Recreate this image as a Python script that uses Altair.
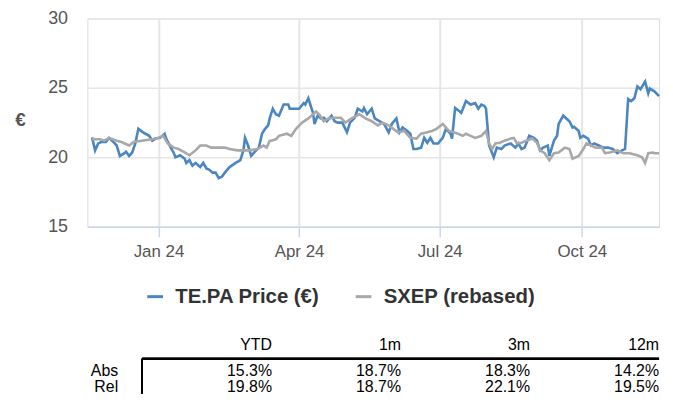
import altair as alt
import pandas as pd

# ---------------- data ----------------
te_dates = ["2023-11-19","2023-11-21","2023-11-23","2023-11-25","2023-11-28","2023-11-30","2023-12-02","2023-12-05","2023-12-07","2023-12-10","2023-12-11","2023-12-13","2023-12-15","2023-12-17","2023-12-19","2023-12-22","2023-12-26","2023-12-28","2023-12-30",
"2024-01-02","2024-01-05","2024-01-06","2024-01-09","2024-01-11","2024-01-12","2024-01-15","2024-01-18","2024-01-19","2024-01-21","2024-01-23","2024-01-25","2024-01-28","2024-01-30",
"2024-02-01","2024-02-03","2024-02-05","2024-02-07","2024-02-09","2024-02-11","2024-02-13","2024-02-16","2024-02-20","2024-02-23","2024-02-25","2024-02-26","2024-02-28",
"2024-03-01","2024-03-03","2024-03-06","2024-03-08","2024-03-10","2024-03-12","2024-03-13","2024-03-15","2024-03-17","2024-03-19","2024-03-22","2024-03-25","2024-03-26","2024-03-29",
"2024-04-01","2024-04-04","2024-04-05","2024-04-07","2024-04-10","2024-04-11","2024-04-13","2024-04-15","2024-04-17","2024-04-19","2024-04-22","2024-04-24","2024-04-26","2024-04-29",
"2024-05-02","2024-05-04","2024-05-07","2024-05-09","2024-05-12","2024-05-13","2024-05-15","2024-05-18","2024-05-20","2024-05-23","2024-05-26","2024-05-29","2024-05-31",
"2024-06-03","2024-06-05","2024-06-07","2024-06-10","2024-06-12","2024-06-14","2024-06-16","2024-06-19","2024-06-21","2024-06-23","2024-06-25","2024-06-27","2024-06-30",
"2024-07-03","2024-07-05","2024-07-08","2024-07-09","2024-07-11","2024-07-14","2024-07-15","2024-07-18","2024-07-21","2024-07-24","2024-07-26","2024-07-28","2024-07-30","2024-07-31",
"2024-08-02","2024-08-04","2024-08-05","2024-08-07","2024-08-10","2024-08-12","2024-08-16","2024-08-19","2024-08-21","2024-08-23","2024-08-25","2024-08-28","2024-08-31",
"2024-09-02","2024-09-04","2024-09-06","2024-09-09","2024-09-10","2024-09-13","2024-09-15","2024-09-16","2024-09-19","2024-09-21","2024-09-23","2024-09-25","2024-09-26","2024-09-29","2024-09-30",
"2024-10-02","2024-10-05","2024-10-07","2024-10-09","2024-10-12","2024-10-15","2024-10-18","2024-10-21","2024-10-24","2024-10-27","2024-10-29","2024-10-31",
"2024-11-02","2024-11-04","2024-11-06","2024-11-08","2024-11-11","2024-11-13","2024-11-14","2024-11-17","2024-11-20"]
te_prices = [21.44,20.5,21.0,21.1,21.1,21.4,21.2,20.85,20.1,20.3,20.4,20.1,20.35,21.0,22.05,21.8,21.55,21.2,21.35,
21.4,21.7,21.35,20.7,20.3,20.0,20.15,19.9,19.6,19.8,19.4,19.6,19.3,19.6,
19.2,19.1,18.9,18.9,18.5,18.6,18.9,19.3,19.6,19.8,20.5,21.4,20.85,
20.1,20.35,20.7,21.7,22.05,22.3,22.8,23.5,23.1,23.0,23.8,23.8,23.5,23.5,
23.5,23.9,23.8,24.25,23.2,22.4,23.0,22.8,22.85,22.6,23.0,22.6,22.5,22.5,
21.8,22.5,22.85,23.5,23.3,23.55,23.1,23.5,22.8,22.6,22.4,21.8,22.4,
22.8,21.8,22.15,21.9,21.7,20.6,20.6,20.7,21.4,21.05,21.4,21.0,21.0,
21.4,22.05,21.7,21.35,23.55,23.3,23.2,24.05,23.8,23.9,23.5,23.8,23.7,23.5,
20.85,20.3,20.0,20.7,20.6,20.85,21.0,20.7,21.0,20.6,20.7,21.55,21.4,
21.2,20.5,20.7,20.85,20.1,21.2,21.55,22.4,23.0,22.8,22.6,22.15,22.2,21.9,21.4,
21.55,21.35,20.85,21.0,20.85,20.7,20.7,20.6,20.3,20.5,20.6,24.2,
24.05,24.25,25.1,24.9,25.45,24.6,24.95,24.75,24.4]

sx_dates = ["2023-11-19","2023-11-24","2023-11-27","2023-11-30","2023-12-05","2023-12-08","2023-12-13","2023-12-16","2023-12-21","2023-12-28",
"2024-01-01","2024-01-04","2024-01-07","2024-01-11","2024-01-14","2024-01-18","2024-01-21","2024-01-25","2024-01-28",
"2024-02-01","2024-02-04","2024-02-08","2024-02-13","2024-02-16","2024-02-21","2024-02-25","2024-02-29",
"2024-03-05","2024-03-09","2024-03-11","2024-03-13","2024-03-14","2024-03-17","2024-03-19","2024-03-24","2024-03-27","2024-03-30",
"2024-04-03","2024-04-07","2024-04-12","2024-04-14","2024-04-17","2024-04-20","2024-04-24","2024-04-28",
"2024-05-01","2024-05-05","2024-05-10","2024-05-14","2024-05-18","2024-05-22","2024-05-25","2024-05-29",
"2024-06-04","2024-06-08","2024-06-12","2024-06-16","2024-06-19","2024-06-23","2024-06-26","2024-06-29",
"2024-07-03","2024-07-07","2024-07-10","2024-07-13","2024-07-16","2024-07-18","2024-07-21","2024-07-24","2024-07-28","2024-07-31",
"2024-08-02","2024-08-04","2024-08-06","2024-08-09","2024-08-12","2024-08-16","2024-08-18","2024-08-20","2024-08-23","2024-08-26","2024-08-30",
"2024-09-02","2024-09-04","2024-09-07","2024-09-10","2024-09-13","2024-09-16","2024-09-20","2024-09-23","2024-09-25","2024-09-29",
"2024-10-02","2024-10-04","2024-10-07","2024-10-10","2024-10-14","2024-10-16","2024-10-19","2024-10-24","2024-10-28",
"2024-11-01","2024-11-06","2024-11-09","2024-11-11","2024-11-13","2024-11-16","2024-11-17","2024-11-20"]
sx_values = [21.3,21.3,21.2,21.4,21.2,21.1,20.85,21.1,21.2,21.3,
21.4,21.55,21.0,20.7,20.6,20.35,20.15,20.5,20.85,
20.85,20.7,20.7,20.7,20.6,20.5,20.5,20.5,
20.6,20.85,20.7,21.2,21.2,21.3,21.55,21.7,21.55,22.05,
22.5,22.8,23.3,23.1,22.6,22.8,22.85,22.85,
22.5,22.8,23.1,22.8,22.6,22.3,22.5,22.3,
21.8,21.9,21.4,21.35,21.7,21.8,21.9,22.05,
22.4,21.9,21.8,21.7,21.55,21.7,21.55,21.4,21.55,21.9,
21.0,20.6,21.0,21.05,21.2,21.35,21.4,21.0,21.05,21.2,21.35,
21.05,20.5,20.3,19.8,20.3,20.35,20.7,20.6,19.9,20.1,
20.6,21.0,20.85,20.7,20.7,20.3,20.35,20.5,20.3,
20.3,20.15,20.0,19.6,20.3,20.35,20.3,20.3]

series_names = ["TE.PA Price (€)", "SXEP (rebased)"]
series_colors = ["#4a86c0", "#a8a8a8"]
y_ticks = [15, 20, 25, 30]

periods = ["YTD", "1m", "3m", "12m"]
row_names = ["Abs", "Rel"]
abs_perf = ["15.3%", "18.7%", "18.3%", "14.2%"]
rel_perf = ["19.8%", "18.7%", "22.1%", "19.5%"]

# ---------------- frames ----------------
te_df = pd.DataFrame({"date": te_dates, "value": te_prices, "series": series_names[0]})
sx_df = pd.DataFrame({"date": sx_dates, "value": sx_values, "series": series_names[1]})
hdr_df = pd.DataFrame({"period": periods})
rows_df = pd.DataFrame({
    "period": periods * 2,
    "row": [row_names[0]] * 4 + [row_names[1]] * 4,
    "txt": abs_perf + rel_perf,
})
rowlab_df = pd.DataFrame({"row": row_names})

FONT = "Liberation Sans"
TFONT = "Liberation Sans"
W = 576
H = 210

color = alt.Color(
    "series:N",
    scale=alt.Scale(domain=series_names, range=series_colors),
    legend=alt.Legend(
        orient="none", direction="horizontal", legendX=58, legendY=270,
        title=None, symbolType="stroke", symbolStrokeWidth=3, symbolSize=250,
        labelFont=FONT, labelFontSize=20.5, labelFontWeight="bold", labelColor="#333333",
        columnPadding=30, labelOffset=10,
    ),
)

x_enc = alt.X(
    "date:T",
    scale=alt.Scale(type="utc",
                    domain=[alt.DateTime(year=2023, month=11, date=16, utc=True),
                            alt.DateTime(year=2024, month=11, date=20, utc=True)]),
    axis=alt.Axis(
        title=None, format="%b %y", tickCount={"interval": "month", "step": 3},
        grid=True, gridColor="#e6e6e6", gridWidth=2,
        domainColor="#ccd6eb", domainWidth=1.5,
        tickColor="#ccd6eb", tickSize=10, tickWidth=1.5,
        labelFont=FONT, labelFontSize=17, labelColor="#555555", labelPadding=7,
    ),
)
y_enc = alt.Y(
    "value:Q",
    scale=alt.Scale(domain=[15, 30], nice=False, zero=False),
    axis=alt.Axis(
        values=y_ticks, title="€", titleAngle=0, titleFontWeight="bold",
        titleFont=FONT, titleFontSize=19, titleColor="#555555",
        titleX=-68, titleY=102, titleAlign="center", titleBaseline="middle",
        ticks=False, domain=False, labelPadding=20,
        grid=True, gridColor="#e6e6e6", gridWidth=1.5,
        labelFont=FONT, labelFontSize=18, labelColor="#555555",
    ),
)

te_line = alt.Chart(te_df).mark_line(strokeWidth=2.6).encode(x=x_enc, y=y_enc, color=color)
sx_line = alt.Chart(sx_df).mark_line(strokeWidth=2.6).encode(x=x_enc, y=y_enc, color=color)
lines = alt.layer(te_line, sx_line)

col_x = alt.X("period:N", scale=alt.Scale(type="point", domain=periods, range=[186, W], padding=0), axis=None)
row_y = alt.Y("row:N", scale=alt.Scale(type="point", domain=row_names, range=[355, 371], padding=0), axis=None)

txt_style = dict(align="right", baseline="middle", font=TFONT, fontSize=16, color="#000000")
hdr = alt.Chart(hdr_df).mark_text(**txt_style).encode(x=col_x, y=alt.value(329), text="period:N")
vals = alt.Chart(rows_df).mark_text(**txt_style).encode(x=col_x, y=row_y, text="txt:N")
rowlab = alt.Chart(rowlab_df).mark_text(**txt_style).encode(x=alt.value(31), y=row_y, text="row:N")
table = alt.layer(hdr, vals, rowlab)

hrule = alt.Chart(hdr_df).mark_rule(color="#000000", strokeWidth=2).encode(
    x=alt.value(55), x2=alt.value(W), y=alt.value(343))
vrule = alt.Chart(hdr_df).mark_rule(color="#000000", strokeWidth=2).encode(
    x=alt.value(55), y=alt.value(343), y2=alt.value(378))

chart = alt.layer(lines, table, hrule, vrule).resolve_scale(
    x="independent", y="independent"
).properties(
    width=W, height=H,
    padding={"left": 6, "top": 0, "right": 0, "bottom": 0},
).configure_view(stroke=None).configure(background="#ffffff")

chart.save("out.html", embed_options={"renderer": "svg", "actions": False})
